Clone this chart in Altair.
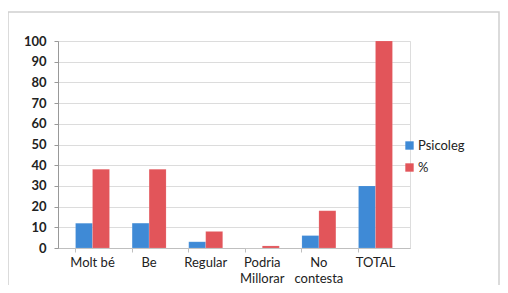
import altair as alt
import pandas as pd

categories = ["Molt bé", "Be", "Regular", "Podria|Millorar", "No|contesta", "TOTAL"]
series = ["Psicoleg", "%"]
psicoleg = [12, 12, 3, 0, 6, 30]
percent = [38, 38, 8, 1, 18, 100]
colors = ["#3f8ad6", "#e2555a"]

rows = []
for c, v in zip(categories, psicoleg):
    rows.append({"cat": c, "serie": "Psicoleg", "val": v})
for c, v in zip(categories, percent):
    rows.append({"cat": c, "serie": "%", "val": v})
df = pd.DataFrame(rows)

FONT = "Lato"

bars = alt.Chart(df).mark_bar(stroke="#ffffff", strokeOpacity=0.25, strokeWidth=0.5).encode(
    x=alt.X("cat:N", sort=categories,
            scale=alt.Scale(paddingInner=0.4, paddingOuter=0.31),
            axis=alt.Axis(title=None, labelAngle=0, labelExpr="split(datum.label, '|')",
                          labelFont=FONT, labelFontSize=13, labelColor="#222222",
                          labelPadding=4, domainColor="#bfbfbf", tickColor="#bfbfbf",
                          tickSize=4, bandPosition=0, labelLineHeight=16)),
    xOffset=alt.XOffset("serie:N", sort=series),
    y=alt.Y("val:Q", scale=alt.Scale(domain=[0, 100]),
            axis=alt.Axis(title=None, values=list(range(0, 101, 10)), labelFont=FONT,
                          labelFontSize=13, labelFontWeight="bold", labelColor="#222222",
                          labelPadding=8, domainColor="#999999", tickColor="#999999",
                          tickSize=4, gridColor="#dcdcdc")),
    color=alt.Color("serie:N", sort=series,
                    scale=alt.Scale(domain=series, range=colors),
                    legend=alt.Legend(title=None, orient="none", legendX=345, legendY=98,
                                      symbolType="square", symbolSize=70,
                                      symbolStrokeWidth=0, labelFont=FONT,
                                      labelFontSize=13, labelColor="#222222",
                                      rowPadding=8, labelOffset=2)),
)

frame = alt.Chart(pd.DataFrame({"a": [0]})).mark_rect(
    fill=None, stroke="#d0d0d0", strokeWidth=1.5
).encode(x=alt.value(-50), x2=alt.value(441), y=alt.value(-29), y2=alt.value(250))

chart = alt.layer(frame, bars).properties(
    width=352, height=207,
    autosize=alt.AutoSizeParams(type="none"),
    padding={"left": 50, "top": 33, "right": 90, "bottom": 37},
).configure_view(stroke=None).configure(background="white")

chart.save("out.html", embed_options={"renderer": "svg", "actions": False})
